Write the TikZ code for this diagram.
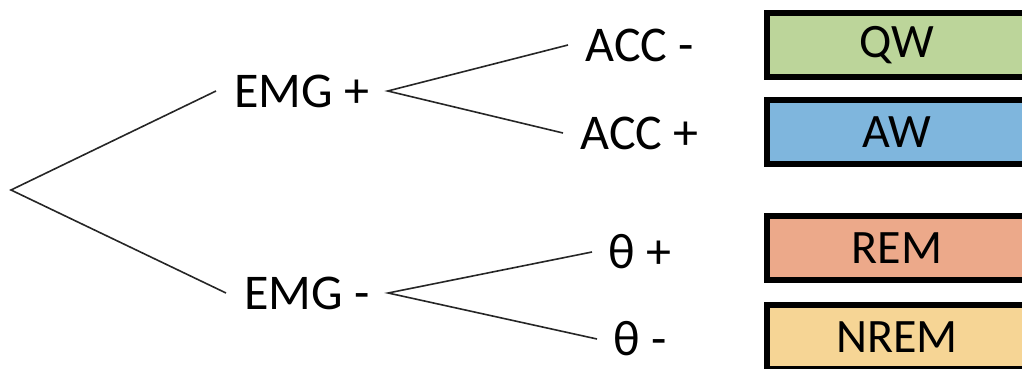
\documentclass[tikz,border=0pt]{standalone}
\usepackage{fontspec}
\setmainfont{Carlito}
\usepackage{xcolor}
\usepackage{tikz}
\usetikzlibrary{positioning, calc}
\definecolor{QWGreen}{HTML}{BCD59A}
\definecolor{AWBlue}{HTML}{7FB6DD}
\definecolor{REMSalmon}{HTML}{ECA98A}
\definecolor{NREMYellow}{HTML}{F6D595}

\begin{document}
\begin{tikzpicture}[x=0.5pt, y=-0.5pt,
    lbl/.style={font=\fontsize{25}{29}\selectfont, inner xsep=9pt, inner ysep=2pt, anchor=west},
    branch/.style={line width=0.8pt, black!85},
    statebox/.style={draw=black, line width=3pt, minimum width=130pt, minimum height=32pt,
      font=\fontsize{24}{28}\selectfont}]
  \useasboundingbox (0,0) rectangle (1022,369);
  % Root of the tree
  \coordinate (root) at (11,190);
  % First split: EMG
  \node[lbl] (emgp) at (216,91) {EMG +};
  \node[lbl] (emgm) at (226,293) {EMG -};
  % Second split: ACC and theta
  \node[lbl, inner xsep=8.5pt] (accm) at (568,45) {ACC -};
  \node[lbl, inner xsep=8.5pt] (accp) at (563,133) {ACC +};
  \node[lbl, inner xsep=8pt] (thp) at (592,252) {θ +};
  \node[lbl, inner xsep=8pt] (thm) at (597,339) {θ -};
  % Branches
  \draw[branch] (emgp.west) -- (root) -- (emgm.west);
  \draw[branch] (accm.west) -- (emgp.east) -- (accp.west);
  \draw[branch] (thp.west) -- (emgm.east) -- (thm.west);
  % Resulting states
  \node[statebox, fill=QWGreen] (qw) at (897,45) {QW};
  \node[statebox, fill=AWBlue] (aw) at (897,132) {AW};
  \node[statebox, fill=REMSalmon] (rem) at (897,248) {REM};
  \node[statebox, fill=NREMYellow] (nrem) at (897,337) {NREM};
\end{tikzpicture}
\end{document}
